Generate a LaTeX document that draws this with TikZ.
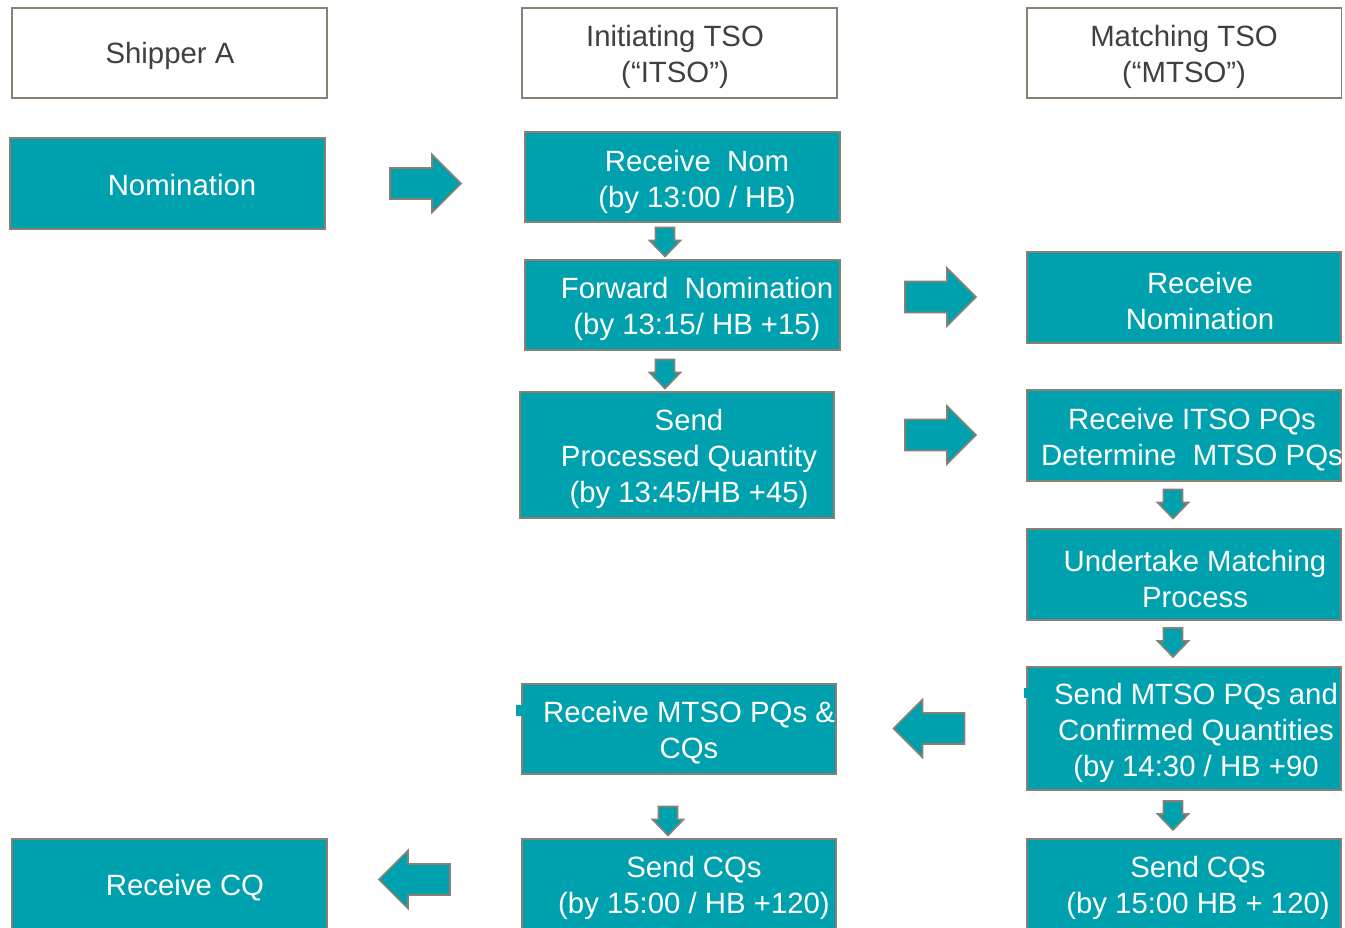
\documentclass[tikz,border=0pt]{standalone}
\usepackage{fontspec}
\setmainfont{Liberation Sans}
\usepackage{tikz}

\definecolor{boxteal}{RGB}{0,161,175}
\definecolor{edgegray}{RGB}{137,127,114}
\definecolor{headgray}{RGB}{64,64,64}

\tikzset{
  rarrow/.pic={\draw[flow] (-35.5,-15.5) -- (6.5,-15.5) -- (6.5,-29) -- (35.5,0) -- (6.5,29) -- (6.5,15.5) -- (-35.5,15.5) -- cycle;},
  darrow/.pic={\draw[flow] (-9.5,-14.5) -- (9.5,-14.5) -- (9.5,-1.5) -- (15.5,-1.5) -- (0,14.5) -- (-15.5,-1.5) -- (-9.5,-1.5) -- cycle;}
}

\begin{document}
\begin{tikzpicture}[
		x=0.02cm, y=-0.02cm,
		every node/.style={rectangle, minimum width=6.3cm, minimum height=1.8cm, inner sep=0pt},
		head/.style={draw=edgegray, line width=1.1pt, fill=white},
		stage/.style={draw=edgegray, line width=1.1pt, fill=boxteal},
		txt/.style={draw=none, fill=none, minimum width=0pt, minimum height=0pt, align=center, text=white, font=\fontsize{16.7}{20.5}\selectfont},
		headtxt/.style={txt, text=headgray},
		flow/.style={draw=edgegray, line width=0.9pt, fill=boxteal, line join=miter}
	]
  \clip (0,0) rectangle (1345,927);
  \fill[white] (0,0) rectangle (1345,927);

  \node (shipper) [head] at (169.5, 53) {};
  \node (shipper_label) [headtxt] at (170, 56) {Shipper A};
  \node (itso) [head] at (679.5, 53) {};
  \node (itso_label) [headtxt] at (675, 57) {Initiating TSO\\(“ITSO”)};
  \node (mtso) [head] at (1184, 53) {};
  \node (mtso_label) [headtxt] at (1184, 57) {Matching TSO\\(“MTSO”)};

  \node (nom) [stage, minimum height=1.82cm] at (167.5, 183.5) {};
  \node (nom_label) [txt] at (182, 185) {Nomination};
  \node (rnom) [stage] at (682.5, 177) {};
  \node (rnom_label) [txt] at (697, 182) {Receive\ \ Nom\\(by 13:00 / HB)};
  \node (fwd) [stage] at (682.5, 305) {};
  \node (fwd_label) [txt] at (697, 309) {Forward\ \ Nomination\\(by 13:15/ HB +15)};
  \node (spq) [stage, minimum width=6.28cm, minimum height=2.52cm] at (677, 455) {};
  \node (spq_label) [txt] at (689, 459) {Send\\Processed Quantity\\(by 13:45/HB +45)};

  \node (mnom) [stage, minimum width=6.28cm, minimum height=1.82cm] at (1184, 297.5) {};
  \node (mnom_label) [txt] at (1200, 301) {Receive\\Nomination};
  \node (mpq) [stage, minimum width=6.28cm, minimum height=1.82cm] at (1184, 435.5) {};
  \node (mpq_label) [txt] at (1192, 440) {Receive ITSO PQs\\Determine\ \ MTSO PQs};
  \node (match) [stage, minimum width=6.28cm, minimum height=1.82cm] at (1184, 574.5) {};
  \node (match_label) [txt] at (1195, 579) {Undertake Matching\\Process};
  \node (msend) [stage, minimum width=6.28cm, minimum height=2.46cm] at (1184, 728.5) {};
  \node (msend_label) [txt] at (1196, 733) {Send MTSO PQs and\\Confirmed Quantities\\(by 14:30 / HB +90};
  \fill[boxteal] (1024, 688) rectangle (1028, 698);

  \node (rpq) [stage, minimum width=6.28cm] at (679, 729) {};
  \node (rpq_label) [txt] at (689, 733) {Receive MTSO PQs \&\\CQs};
  \fill[boxteal] (516, 705) rectangle (523, 716);

  \node (rcq) [stage] at (169.5, 884) {};
  \node (rcq_label) [txt] at (185, 888) {Receive CQ};
  \node (scq) [stage, minimum width=6.28cm] at (679, 884) {};
  \node (scq_label) [txt] at (694, 888) {Send CQs\\(by 15:00 / HB +120)};
  \node (mscq) [stage, minimum width=6.28cm] at (1184, 884) {};
  \node (mscq_label) [txt] at (1198, 888) {Send CQs\\(by 15:00 HB + 120)};

  \pic at (425.5, 183.5) {rarrow};
  \pic at (940.5, 297) {rarrow};
  \pic at (940.5, 435) {rarrow};
  \pic[xscale=-1] at (929, 728.5) {rarrow};
  \pic[xscale=-1] at (414.5, 879.5) {rarrow};

  \pic at (665, 242) {darrow};
  \pic at (665, 374) {darrow};
  \pic at (1173, 504) {darrow};
  \pic at (1173, 642.5) {darrow};
  \pic at (1173, 815.5) {darrow};
  \pic at (668, 821) {darrow};
\end{tikzpicture}
\end{document}
